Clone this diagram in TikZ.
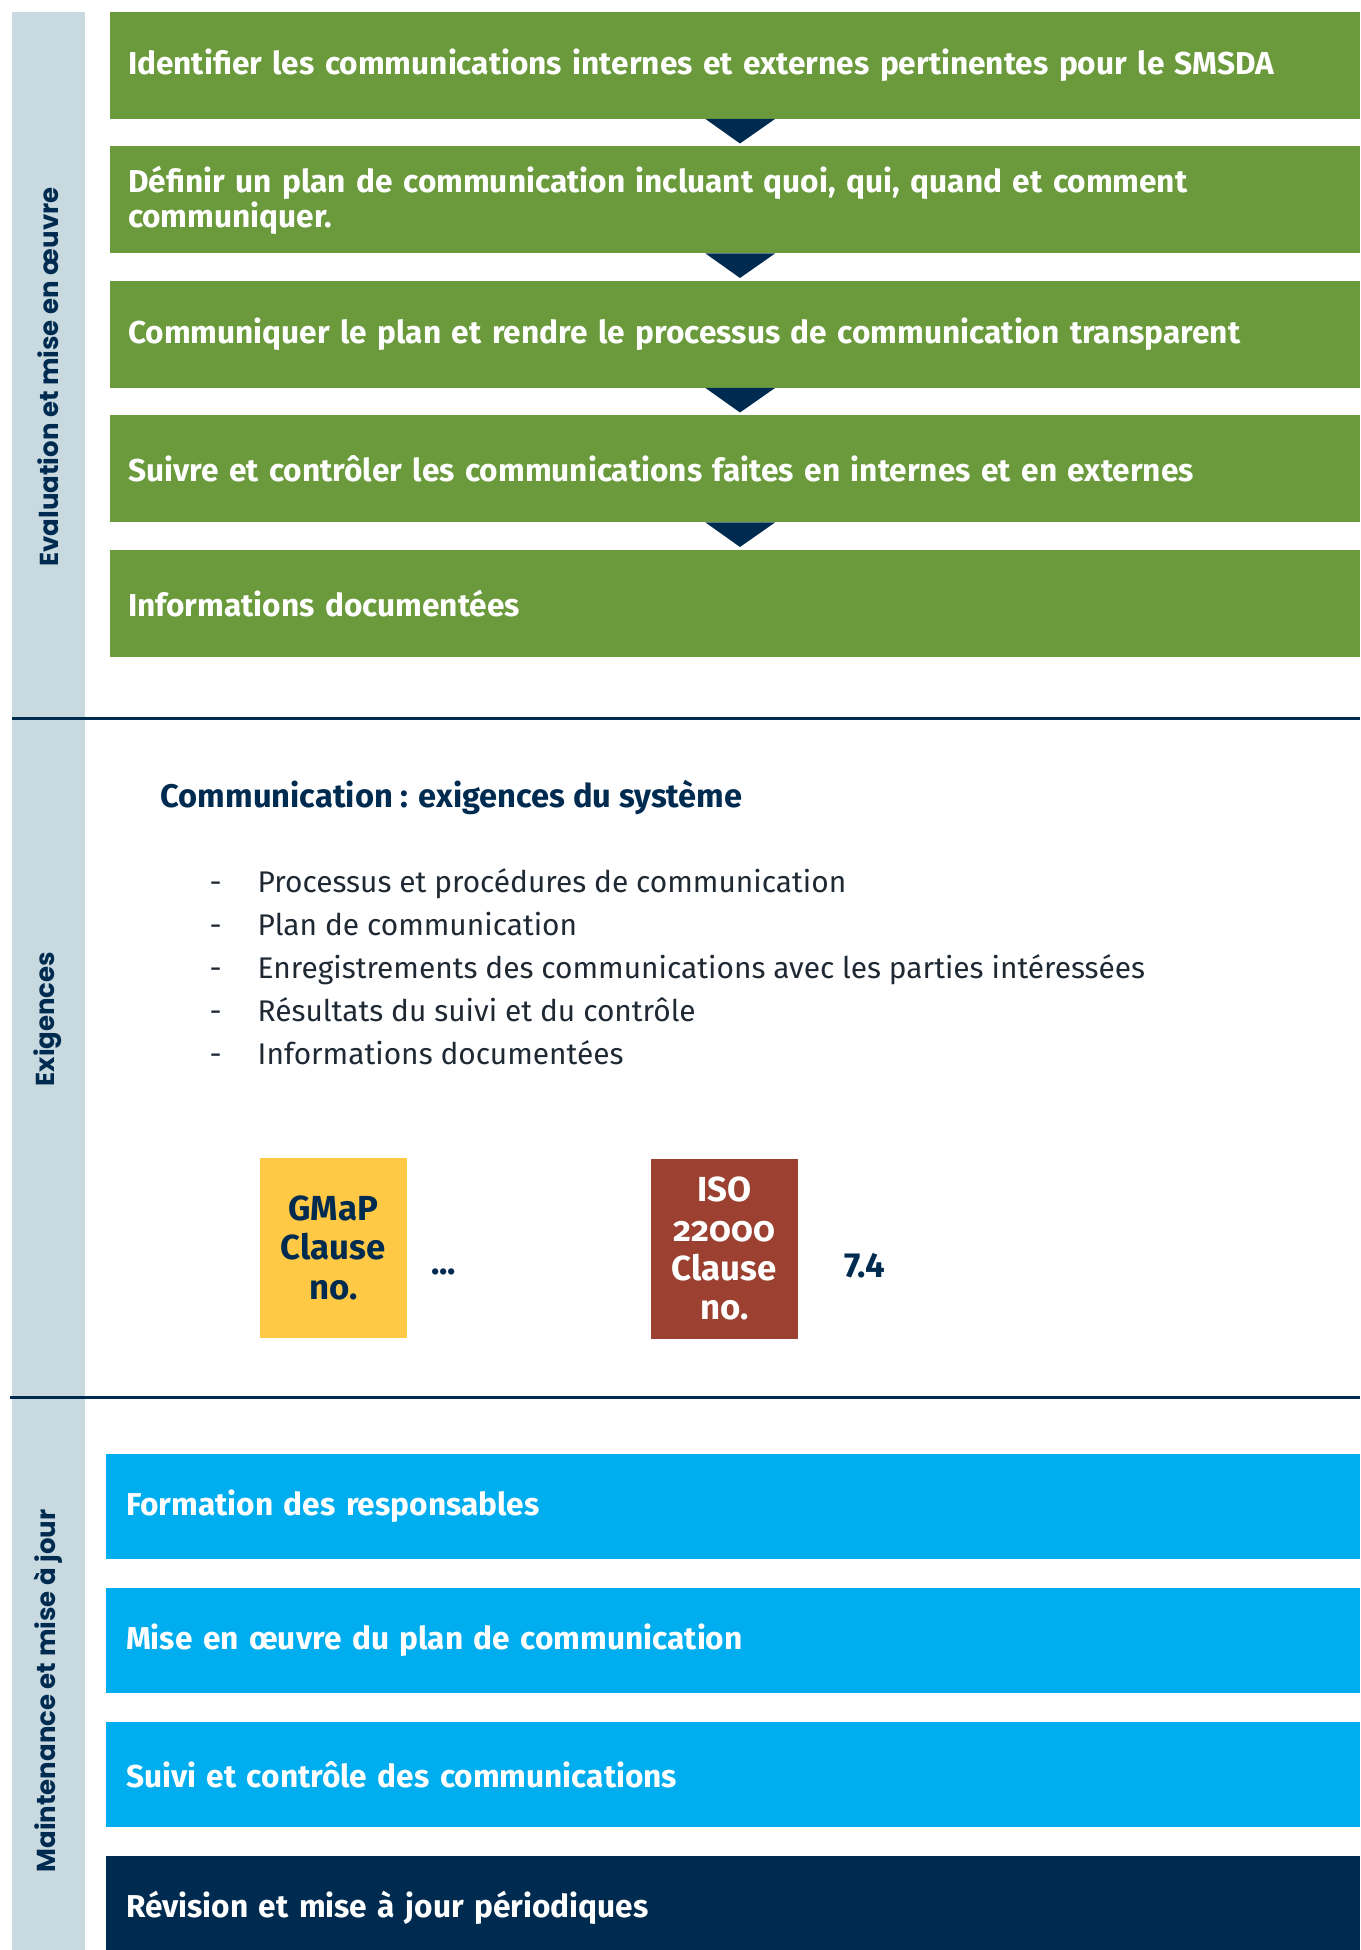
\documentclass[tikz,border=0pt]{standalone}
\usepackage{fontspec}
\setmainfont{Fira Sans}
\newfontfamily\sidefont{Poppins}
\usetikzlibrary{positioning,calc}
\definecolor{stagegreen}{HTML}{6A9A3B}
\definecolor{navy}{HTML}{002B50}
\definecolor{sidegrey}{HTML}{C8D9E0}
\definecolor{upkeepblue}{HTML}{00AEEF}
\definecolor{gmapyellow}{HTML}{FFC845}
\definecolor{isored}{HTML}{9C4131}
\definecolor{bodytext}{HTML}{1F2933}
\tikzset{
  stage/.style     = {rectangle,fill=stagegreen,text=white,align=left,font=\fontsize{9}{10}\selectfont\bfseries,minimum height=10.7mm,text width=121.4mm,inner xsep=1.8mm,inner ysep=0pt,outer sep=0pt},
  upkeep/.style    = {stage,fill=upkeepblue,minimum height=10.45mm,inner xsep=2mm,text width=121.4mm},
  sidelabel/.style = {rotate=90,text=navy,font=\sidefont\fontsize{7.4}{8}\selectfont\bfseries},
  heading/.style   = {anchor=west,inner sep=0pt,text=navy,font=\fontsize{9.3}{10}\selectfont\bfseries},
  item/.style      = {anchor=base west,inner sep=0pt,text=bodytext,font=\fontsize{8.5}{10}\selectfont},
  clause/.style    = {rectangle,align=center,font=\fontsize{9.9}{11.2}\selectfont\bfseries,minimum width=14.7mm,minimum height=18mm,inner sep=0pt},
  clauseno/.style  = {text=navy,inner sep=0pt,font=\fontsize{9.9}{11}\selectfont\bfseries},
  sepline/.style   = {navy,line width=0.3mm},
  marker/.style    = {fill=navy},
}
\begin{document}
\begin{tikzpicture}[x=0.1mm,y=-0.1mm,node distance=2.75mm]
\useasboundingbox (0,0) rectangle (1360,1950);
\fill[sidegrey] (12,12) rectangle (85,1950);
% evaluation
\node[stage,anchor=north west] (s1) at (110,12) {Identifier les communications internes et externes pertinentes pour le SMSDA};
\node[stage,below=of s1] (s2) {Définir un plan de communication incluant quoi, qui, quand et comment\\communiquer.};
\node[stage,below=of s2] (s3) {Communiquer le plan et rendre le processus de communication transparent};
\node[stage,below=of s3] (s4) {Suivre et contrôler les communications faites en internes et en externes};
\node[stage,below=of s4] (s5) {Informations documentées};
\foreach \a in {1,...,4}
  \fill[marker] ([xshift=-2.95mm]s\a.south) -- ([xshift=4mm]s\a.south) -- ([xshift=0.5mm,yshift=-2.45mm]s\a.south) -- cycle;
\draw[sepline] (12,718) -- (1360,718);
\draw[sepline] (10,1397) -- (1360,1397);
% side labels
\node[sidelabel] (evallbl) at (48,377) {Evaluation et mise en œuvre};
\node[sidelabel] (reqlbl) at (48,1019) {Exigences};
\node[sidelabel] (mntlbl) at (48,1691) {Maintenance et mise à jour};
% requirements
\node[heading] (reqtitle) at (160,797) {Communication : exigences du système};
\foreach \t [count=\i] in {Processus et procédures de communication, Plan de communication, Enregistrements des communications avec les parties intéressées, Résultats du suivi et du contrôle, Informations documentées}{
  \node[item] (dash\i) at (209,{849+43*\i}) {-};
  \node[item] (req\i) at (257,{849+43*\i}) {\t};
}
\node[clause,fill=gmapyellow,text=navy,anchor=north west] (gmap) at (259,1157) {GMaP\\Clause\\no.};
\node[clauseno,right=2.3mm of gmap,yshift=-2.4mm] (gmapno) {...};
\node[clause,fill=isored,text=white,anchor=north west] (iso) at (650,1158) {ISO\\{\addfontfeatures{Numbers=OldStyle}22000}\\Clause\\no.};
\node[clauseno,right=4.5mm of iso,yshift=-1.7mm] (isono) {7.4};
% maintenance
\node[upkeep,anchor=north west] (m1) at (106,1454) {Formation des responsables};
\node[upkeep,below=2.95mm of m1] (m2) {Mise en œuvre du plan de communication};
\node[upkeep,below=2.95mm of m2] (m3) {Suivi et contrôle des communications};
\node[upkeep,below=2.95mm of m3,fill=navy] (m4) {Révision et mise à jour périodiques};
\end{tikzpicture}
\end{document}
